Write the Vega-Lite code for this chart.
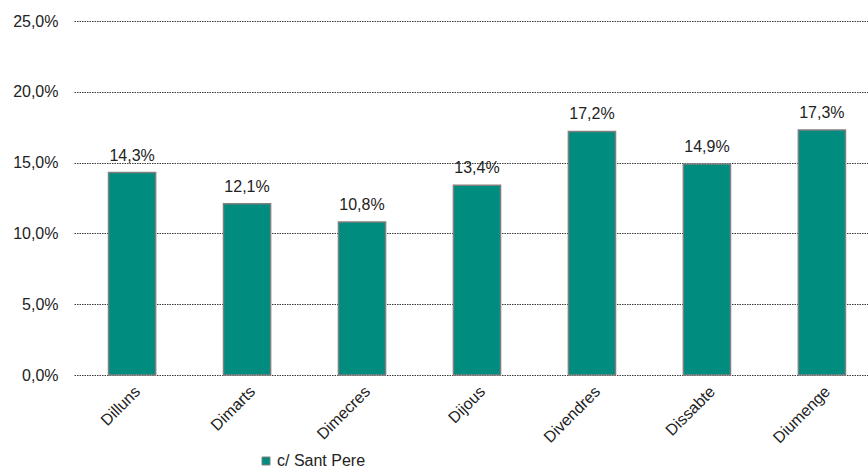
{
  "$schema": "https://vega.github.io/schema/vega-lite/v6.json",
  "width": 794,
  "height": 354,
  "autosize": {"type": "none"},
  "padding": {"left": 74, "top": 21, "right": 0, "bottom": 97},
  "config": {
    "locale": {"number": {"decimal": ",", "thousands": ".", "grouping": [3], "currency": ["", " €"]}},
    "font": "Liberation Sans",
    "view": {"stroke": null}
  },
  "data": {
    "values": [
      {"dia": "Dilluns", "valor": 0.143, "serie": "c/ Sant Pere"},
      {"dia": "Dimarts", "valor": 0.121, "serie": "c/ Sant Pere"},
      {"dia": "Dimecres", "valor": 0.108, "serie": "c/ Sant Pere"},
      {"dia": "Dijous", "valor": 0.134, "serie": "c/ Sant Pere"},
      {"dia": "Divendres", "valor": 0.172, "serie": "c/ Sant Pere"},
      {"dia": "Dissabte", "valor": 0.149, "serie": "c/ Sant Pere"},
      {"dia": "Diumenge", "valor": 0.173, "serie": "c/ Sant Pere"}
    ]
  },
  "encoding": {
    "x": {
      "field": "dia", "type": "nominal", "sort": null,
      "scale": {"paddingInner": 0.59, "paddingOuter": 0.248, "align": 0.605},
      "axis": {"title": null, "labelAngle": -45, "labelFontSize": 16, "labelColor": "#222", "domain": false, "ticks": false, "labelPadding": 8}
    },
    "y": {
      "field": "valor", "type": "quantitative",
      "scale": {"domain": [0, 0.25], "nice": false},
      "axis": {"title": null, "format": ".1%", "values": [0, 0.05, 0.1, 0.15, 0.2, 0.25], "labelFontSize": 16, "labelColor": "#222", "domain": false, "ticks": false, "labelPadding": 16, "gridColor": "#3a3a3a", "gridDash": [1.5, 1], "gridWidth": 1, "gridOpacity": 1}
    }
  },
  "layer": [
    {
      "mark": {"type": "bar", "stroke": "#808080", "strokeWidth": 1.5},
      "encoding": {
        "color": {"field": "serie", "type": "nominal", "scale": {"range": ["#008C7E"]},
          "legend": {"title": null, "orient": "none", "legendX": 184, "legendY": 432, "symbolType": "square", "symbolSize": 64, "symbolStrokeColor": "#808080", "symbolStrokeWidth": 1, "labelFontSize": 16, "labelColor": "#222", "labelOffset": 3}}
      }
    },
    {
      "mark": {"type": "text", "baseline": "bottom", "dy": -9, "fontSize": 16, "color": "#222"},
      "encoding": {"text": {"field": "valor", "type": "quantitative", "format": ".1%"}}
    }
  ]
}
